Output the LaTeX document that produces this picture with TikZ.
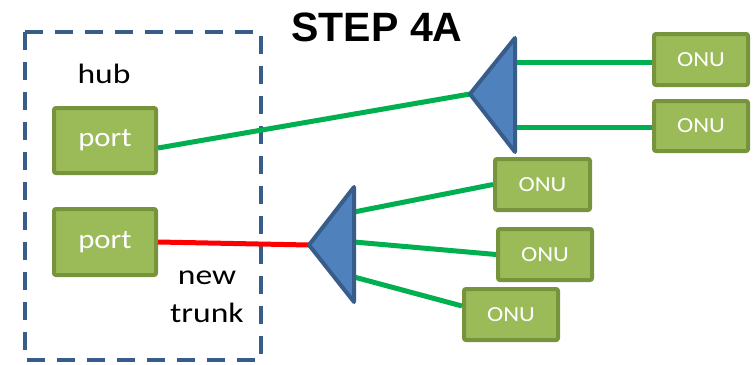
\documentclass[tikz,border=0pt]{standalone}
\usepackage{fontspec}
\setmainfont{Carlito}
\newfontfamily\titlefont{Liberation Sans}
\newfontfamily\labelfont[FakeStretch=1.2]{Carlito}
\newfontfamily\boxfont[FakeStretch=1.14]{Carlito}
\definecolor{boxfill}{HTML}{9BBB59}
\definecolor{boxline}{HTML}{77933C}
\definecolor{splitfill}{HTML}{4F81BD}
\definecolor{splitline}{HTML}{385D8A}
\definecolor{fiber}{HTML}{00B050}
\definecolor{trunkred}{HTML}{FF0000}
\begin{document}
\begin{tikzpicture}[x=1pt,y=-1pt,
  unit/.style={draw=boxline, fill=boxfill, line width=4pt, rounded corners=2pt,
    inner sep=0pt, text=white},
  portbox/.style={unit, minimum width=102pt, minimum height=65pt,
    font=\boxfont\fontsize{27}{29}\selectfont},
  onubox/.style={unit, minimum width=94pt, minimum height=51pt,
    font=\boxfont\fontsize{21.5}{24}\selectfont},
  splitter/.style={draw=splitline, fill=splitfill, line width=4pt, line join=round},
  fiberline/.style={draw=fiber, line width=5pt},
  label/.style={font=\labelfont\fontsize{28}{38}\selectfont, align=center, inner sep=0pt}]
\useasboundingbox (0,0) rectangle (754,364);

% hub enclosure
\draw[draw=splitline, line width=4pt, dash pattern=on 18pt off 12pt]
  (25,32) rectangle (261,360);
\node[label] (hub) at (104,74) {hub};
\node[label] (trunk) at (207,297) {new\\trunk};
\node[font=\titlefont\bfseries\fontsize{41}{44}\selectfont, inner sep=0pt] (title) at (377,27) {STEP 4A};

% hub ports
\node[portbox] (p1) at (105,140.5) {port};
\node[portbox, minimum height=66pt] (p2) at (105,242) {port};

% ONUs
\node[onubox] (o1) at (701,59.5) {ONU};
\node[onubox, minimum height=50pt] (o2) at (701,126) {ONU};
\node[onubox, minimum width=95pt] (o3) at (542.5,184.5) {ONU};
\node[onubox] (o4) at (545,254.5) {ONU};
\node[onubox] (o5) at (511,314.5) {ONU};

% splitter corners
\coordinate (s1tip) at (470,94);
\coordinate (s1top) at (515,38);
\coordinate (s1bot) at (515,152);
\coordinate (s2tip) at (309,245);
\coordinate (s2top) at (354,187);
\coordinate (s2bot) at (354,302);

% feeder fibres
\draw[fiberline] ([yshift=-7.5pt]p1.east) -- (s1tip);
\draw[draw=trunkred, line width=5pt] (p2.east) -- (s2tip);

% drop fibres
\coordinate (a1) at (515,62);
\coordinate (a2) at (515,127);
\draw[fiberline] (a1) -- (a1 -| o1.west);
\draw[fiberline] (a2) -- (a2 -| o2.west);
\coordinate (b1) at (354,212);
\coordinate (b2) at (354,242);
\coordinate (b3) at (354,277);
\draw[fiberline] (b1) -- (o3.west);
\draw[fiberline] (b2) -- (o4.west);
\draw[fiberline] (b3) -- ([yshift=8.5pt]o5.west);

% splitters
\draw[splitter] (s1tip) -- (s1top) -- (s1bot) -- cycle;
\draw[splitter] (s2tip) -- (s2top) -- (s2bot) -- cycle;
\end{tikzpicture}
\end{document}
